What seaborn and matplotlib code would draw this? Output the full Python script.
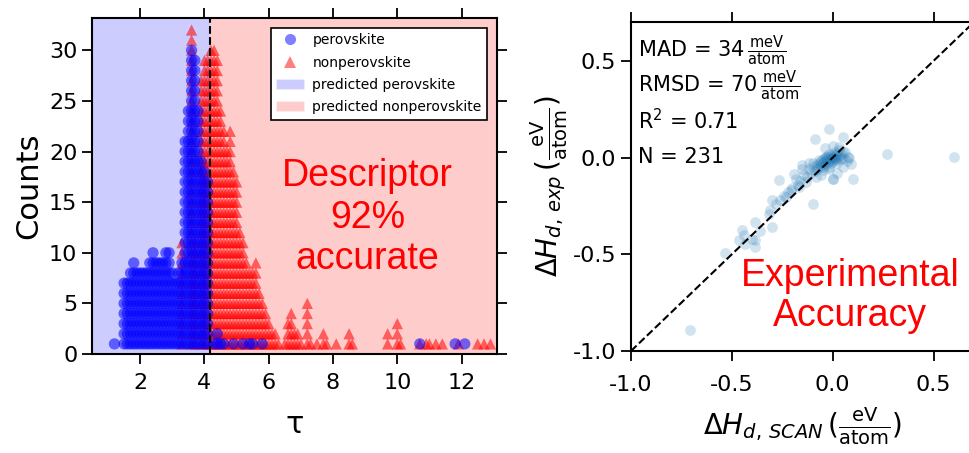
import pandas as pd
import matplotlib.pyplot as plt
import seaborn as sns
from matplotlib.lines import Line2D
from matplotlib.patches import Patch

sns.set_style("ticks")
plt.rcParams['font.family'] = ['DejaVu Sans']
plt.rcParams['axes.unicode_minus'] = False
plt.rcParams['mathtext.fontset'] = 'dejavusans'
plt.rcParams['text.color'] = 'black'
plt.rcParams['axes.labelcolor'] = 'black'

# left panel: stacked counts of tau per 0.1 bin
tau_cut = 4.18
perov_tau = [1.2, 1.5, 1.6, 1.7, 1.8, 1.9, 2.0, 2.1, 2.2, 2.3, 2.4, 2.5, 2.6, 2.7, 2.8,
             2.9, 3.0, 3.1, 3.2, 3.3, 3.4, 3.5, 3.6, 3.7, 3.8, 3.9, 4.0, 4.1,
             4.3, 4.4, 4.5, 4.6, 4.9, 5.2, 5.4, 5.5, 5.8, 10.7, 11.8, 12.1]
perov_counts = [1, 7, 7, 8, 9, 8, 8, 8, 8, 9, 10, 9, 9, 9, 10,
                10, 8, 7, 8, 9, 21, 24, 30, 29, 24, 19, 18, 17,
                1, 2, 1, 1, 1, 1, 1, 1, 1, 1, 1, 1]
nonperov_tau = [3.3, 3.6, 3.7, 3.9, 4.0, 4.1, 4.2, 4.3, 4.4, 4.5, 4.6, 4.7, 4.8, 4.9,
                5.0, 5.1, 5.2, 5.3, 5.4, 5.5, 5.6, 5.7, 5.8, 5.9, 6.0, 6.1, 6.2, 6.3,
                6.5, 6.6, 6.7, 6.8, 6.9, 7.0, 7.2, 7.3, 7.5, 7.7, 7.8, 8.1, 8.5, 8.6,
                9.7, 10.0, 10.1, 10.7, 10.9, 11.0, 11.2, 11.4, 11.9, 12.5, 12.7, 12.9]
nonperov_counts = [11, 32, 11, 27, 29, 29, 30, 30, 29, 24, 22, 20, 22, 18,
                   17, 12, 11, 9, 8, 8, 9, 6, 5, 4, 3, 2, 2, 1,
                   1, 3, 4, 2, 2, 1, 5, 1, 1, 2, 1, 1, 2, 1,
                   2, 3, 1, 1, 1, 1, 1, 1, 1, 1, 1, 1]

# right panel: SCAN vs experimental decomposition enthalpy (eV/atom)
dh_scan = [-0.708, -0.533, -0.467, -0.45, -0.433, -0.383, -0.383, -0.383, -0.3, -0.317,
           -0.303, -0.267, -0.233, -0.208, -0.19, -0.167, -0.15, -0.133, -0.1, -0.1,
           -0.09, -0.083, -0.067, -0.05, -0.033, -0.017, -0.017, 0.0, 0.0, 0.017,
           0.033, 0.05, 0.05, 0.075, 0.092, 0.1, 0.267, 0.603,
           -0.12, -0.11, -0.10, -0.09, -0.08, -0.08, -0.07, -0.07, -0.06, -0.06,
           -0.05, -0.05, -0.05, -0.04, -0.04, -0.04, -0.03, -0.03, -0.03, -0.02,
           -0.02, -0.02, -0.01, -0.01, -0.01, 0.0, 0.0, 0.0, 0.01, 0.01,
           0.01, 0.02, 0.02, 0.02, 0.03, 0.03, 0.04, 0.04, 0.05, 0.06,
           -0.13, -0.14, -0.16, -0.17, -0.2, -0.22, -0.24, -0.18, -0.12, -0.15,
           -0.04, 0.0, 0.02, 0.05, -0.06, 0.07, 0.08, -0.02, 0.0, -0.36,
           -0.4, -0.44, -0.31, -0.28, -0.26]
dh_exp = [-0.893, -0.493, -0.428, -0.376, -0.445, -0.333, -0.462, -0.428, -0.359, -0.29,
          -0.22, -0.117, -0.203, -0.169, -0.083, -0.152, -0.04, -0.126, -0.03, -0.238,
          0.098, -0.1, -0.014, -0.066, 0.003, 0.15, -0.048, 0.003, -0.109, -0.014,
          0.055, 0.107, 0.029, 0.003, -0.031, -0.109, 0.017, 0.003,
          -0.06, -0.08, -0.05, -0.07, -0.04, -0.06, -0.03, -0.05, -0.02, -0.04,
          -0.01, -0.03, -0.05, 0.0, -0.02, -0.04, 0.01, -0.01, -0.03, 0.02,
          0.0, -0.02, 0.01, -0.01, -0.03, 0.02, 0.0, -0.02, 0.03, 0.01,
          -0.01, 0.02, 0.0, -0.03, 0.04, 0.01, 0.02, -0.01, 0.0, 0.03,
          -0.10, -0.09, -0.12, -0.14, -0.16, -0.18, -0.20, -0.11, -0.03, -0.06,
          0.05, 0.06, -0.08, -0.05, -0.09, -0.02, 0.0, -0.06, -0.11, -0.38,
          -0.42, -0.40, -0.27, -0.24, -0.22]

rows = []
for t, c in zip(nonperov_tau, nonperov_counts):
    for k in range(1, c + 1):
        rows.append((t, k, "nonperovskite"))
for t, c in zip(perov_tau, perov_counts):
    for k in range(1, c + 1):
        rows.append((t, k, "perovskite"))
df_tau = pd.DataFrame(rows, columns=["tau", "count", "label"])
df_dh = pd.DataFrame({"scan": dh_scan, "exp": dh_exp})

fig = plt.figure(figsize=(9.7, 4.53), dpi=100)
ax1 = fig.add_axes([0.0948, 0.2185, 0.4175, 0.742])
ax2 = fig.add_axes([0.6505, 0.2252, 0.3536, 0.726])

# left panel
ax1.axvspan(0, tau_cut, color="blue", alpha=0.2, lw=0)
ax1.axvspan(tau_cut, 14, color="red", alpha=0.2, lw=0)
sns.scatterplot(data=df_tau, x="tau", y="count", hue="label", style="label",
                palette={"perovskite": "blue", "nonperovskite": "red"},
                markers={"perovskite": "o", "nonperovskite": "^"},
                s=66, alpha=0.55, linewidth=0, legend=False, ax=ax1)
ax1.axvline(tau_cut, color="black", ls="--", lw=1.5)
ax1.set_xlim(0.5, 13.1)
ax1.set_ylim(0, 33.2)
ax1.set_xticks([2, 4, 6, 8, 10, 12])
ax1.set_yticks([0, 5, 10, 15, 20, 25, 30])
ax1.set_xlabel("τ", fontsize=22, labelpad=12)
ax1.set_ylabel("Counts", fontsize=22, labelpad=4)
handles = [
    Line2D([], [], marker="o", ls="", color="blue", alpha=0.5, markersize=8, markeredgewidth=0),
    Line2D([], [], marker="^", ls="", color="red", alpha=0.5, markersize=8, markeredgewidth=0),
    Patch(facecolor="blue", alpha=0.2),
    Patch(facecolor="red", alpha=0.2),
]
leg = ax1.legend(handles, ["perovskite", "nonperovskite", "predicted perovskite",
                           "predicted nonperovskite"],
                 loc="upper right", fontsize=10, frameon=True, fancybox=False,
                 framealpha=1, edgecolor="black", borderaxespad=0.7,
                 labelspacing=0.6, handletextpad=0.6)
leg.get_frame().set_linewidth(1.2)
ax1.text(0.681, 0.405, "Descriptor\n92%\naccurate", transform=ax1.transAxes,
         ha="center", va="center", color="red", fontsize=27,
         family="Liberation Sans", linespacing=1.2)

# right panel
sns.scatterplot(data=df_dh, x="scan", y="exp", color="#1f77b4", alpha=0.2,
                s=60, linewidth=0, ax=ax2)
ax2.axline((0, 0), slope=1, color="black", ls="--", lw=1.5)
ax2.set_xlim(-1.0, 0.7)
ax2.set_ylim(-1.0, 0.7)
ax2.set_xticks([-1.0, -0.5, 0.0, 0.5])
ax2.set_yticks([-1.0, -0.5, 0.0, 0.5])
ax2.set_xlabel(r"$\Delta H_{d,\,SCAN}\,(\frac{\mathrm{eV}}{\mathrm{atom}})$", fontsize=20, labelpad=8)
ax2.set_ylabel(r"$\Delta H_{d,\,exp}\,(\frac{\mathrm{eV}}{\mathrm{atom}})$", fontsize=20, labelpad=2)
stats = [r"MAD = 34$\,\frac{\mathrm{meV}}{\mathrm{atom}}$",
         r"RMSD = 70$\,\frac{\mathrm{meV}}{\mathrm{atom}}$",
         r"R$^2$ = 0.71", "N = 231"]
for i, s in enumerate(stats):
    ax2.text(0.02, 0.915 - 0.108 * i, s, transform=ax2.transAxes, ha="left",
             va="center", fontsize=15, color="black")
ax2.text(0.638, 0.167, "Experimental\nAccuracy", transform=ax2.transAxes,
         ha="center", va="center", color="red", fontsize=27,
         family="Liberation Sans", linespacing=1.15)

for ax in (ax1, ax2):
    ax.tick_params(axis="both", which="both", direction="out", length=7, width=1.3,
                   labelsize=16, top=True, right=True, colors="black")
    ax.tick_params(axis="x", pad=7)
    for sp in ax.spines.values():
        sp.set_visible(True)
        sp.set_linewidth(1.5)
        sp.set_color("black")
ax2.tick_params(axis="x", pad=10)

fig.savefig("out.png", dpi=100, facecolor="white")
